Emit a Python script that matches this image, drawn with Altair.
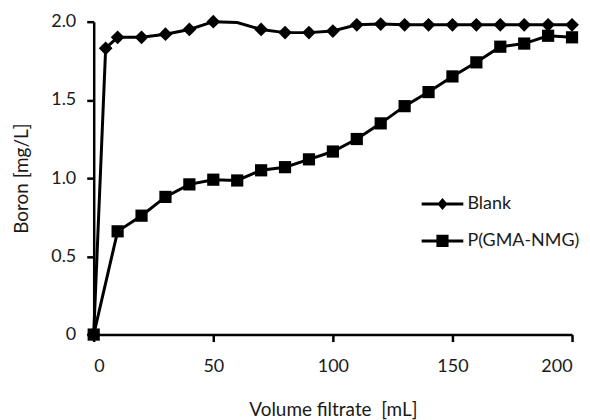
import altair as alt
import pandas as pd

# ---- data ----
blank_x = [0, 5, 10, 20, 30, 40, 50, 60, 70, 80, 90, 100, 110, 120, 130, 140, 150, 160, 170, 180, 190, 200]
blank_y = [0, 1.83, 1.90, 1.90, 1.92, 1.95, 2.00, 1.995, 1.95, 1.93, 1.93, 1.94, 1.98, 1.985, 1.98, 1.98, 1.98, 1.98, 1.98, 1.98, 1.98, 1.98]
blank_marker = [True] * 7 + [False] + [True] * 14

gma_x = [0, 10, 20, 30, 40, 50, 60, 70, 80, 90, 100, 110, 120, 130, 140, 150, 160, 170, 180, 190, 200]
gma_y = [0, 0.66, 0.76, 0.88, 0.96, 0.99, 0.985, 1.05, 1.07, 1.12, 1.17, 1.25, 1.35, 1.46, 1.55, 1.65, 1.74, 1.84, 1.86, 1.91, 1.90]

series_names = ["Blank", "P(GMA-NMG)"]
x_ticks = [0, 50, 100, 150, 200]
y_ticks = [0, 0.5, 1.0, 1.5, 2.0]

rows = []
for x, y, m in zip(blank_x, blank_y, blank_marker):
    rows.append({"series": series_names[0], "x": x, "y": y, "marker": m})
for x, y in zip(gma_x, gma_y):
    rows.append({"series": series_names[1], "x": x, "y": y, "marker": True})
df = pd.DataFrame(rows)

FONT = "Lato"
TXT = "#1a1a1a"

xenc = alt.X("x:Q", scale=alt.Scale(domain=[0, 200], nice=False, zero=True),
             axis=alt.Axis(values=x_ticks, title="Volume filtrate\u00a0 [mL]", grid=False,
                           domainColor="black", domainWidth=2.5, tickColor="black",
                           tickWidth=2.5, tickSize=7, labelPadding=16, labelFontSize=18,
                           labelFont=FONT, labelColor=TXT, titleFont=FONT, titleFontSize=19,
                           titleFontWeight="normal", titleColor=TXT,
                           titleBaseline="alphabetic", titleY=81))
yenc = alt.Y("y:Q", scale=alt.Scale(domain=[0, 2], nice=False),
             axis=alt.Axis(values=y_ticks, title="Boron [mg/L]", grid=False,
                           labelExpr="datum.value == 0 ? '0' : format(datum.value, '.1f')",
                           domainColor="black", domainWidth=2.5, tickColor="black",
                           tickWidth=2.5, tickSize=7, labelPadding=11, labelFontSize=18,
                           labelFont=FONT, labelColor=TXT, titleFont=FONT, titleFontSize=19,
                           titleFontWeight="normal", titleColor=TXT,
                           titleBaseline="alphabetic", titleX=-66))

base = alt.Chart(df)

lines = base.mark_line(color="black", strokeWidth=3).encode(
    x=xenc, y=yenc, detail="series:N"
)

points = base.transform_filter("datum.marker").mark_point(
    filled=True, color="black", opacity=1
).encode(
    x="x:Q", y="y:Q",
    shape=alt.Shape("series:N", scale=alt.Scale(domain=series_names, range=["diamond", "square"]),
                    legend=None),
    size=alt.Size("series:N", scale=alt.Scale(domain=series_names, range=[190, 150]), legend=None),
)

legend_paths = [
    "M-1.1,-0.08H1.1V0.08H-1.1Z M0,-0.32L0.27,0L0,0.32L-0.27,0Z",
    "M-1.1,-0.08H1.1V0.08H-1.1Z M-0.32,-0.32H0.32V0.32H-0.32Z",
]

legend_layer = base.mark_point(filled=True, color="black", opacity=0).encode(
    x="x:Q", y="y:Q",
    shape=alt.Shape("series:N", scale=alt.Scale(domain=series_names, range=legend_paths),
                    legend=alt.Legend(title=None, orient="none", legendX=331, legendY=164,
                                      padding=0, rowPadding=9, symbolSize=1444,
                                      symbolOpacity=1, symbolFillColor="black",
                                      symbolStrokeWidth=0, labelOffset=6,
                                      labelFont=FONT, labelFontSize=18, labelColor=TXT)),
)

chart = alt.layer(lines, points, legend_layer).resolve_scale(
    shape="independent", size="independent"
).properties(
    width=480, height=314,
    autosize=alt.AutoSizeParams(type="none"),
    padding={"left": 86, "top": 13, "right": 10, "bottom": 85},
).configure_view(stroke=None)

chart.save("out.html", embed_options={"renderer": "svg", "actions": False})
